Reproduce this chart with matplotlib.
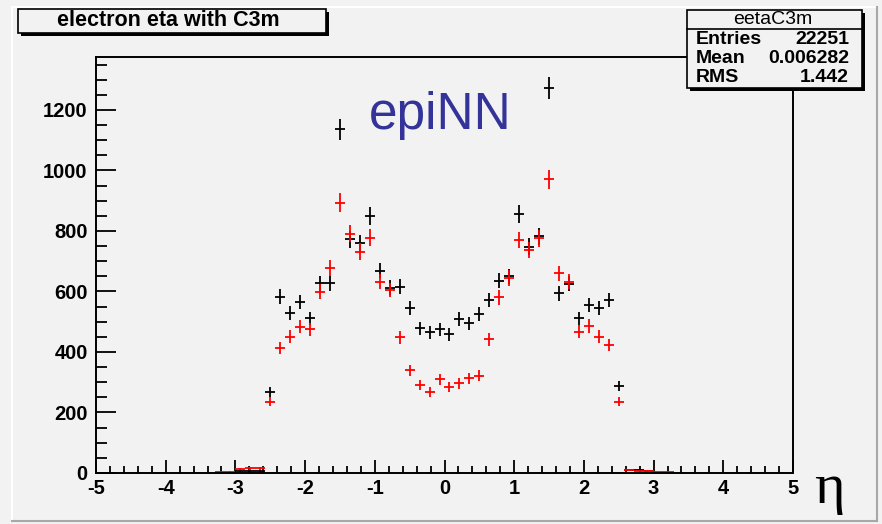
import numpy as np
import matplotlib
matplotlib.use("Agg")
import matplotlib.pyplot as plt
from matplotlib.patches import Rectangle
from matplotlib.lines import Line2D
from matplotlib.ticker import MultipleLocator

# histogram eetaC3m: 70 bins on [-5, 5], filled bins 12..58
n_bins = 70
eta_lo, eta_hi = -5.0, 5.0
first_bin = 12

counts_all = [0, 0, 5, 7, 6,
              269, 583, 528, 566, 511, 627, 627, 1136, 773, 759, 850, 669,
              613, 616, 544, 478, 465, 475, 458, 508, 495, 526, 572, 636,
              650, 856, 748, 783, 1272, 594, 625, 511, 555, 544, 572, 288,
              10, 9, 6, 0, 0, 0]
counts_c3m = [2, 4, 14, 15, 15,
              236, 412, 451, 484, 475, 599, 677, 894, 790, 732, 778, 632,
              605, 449, 340, 291, 269, 310, 283, 296, 313, 321, 442, 581,
              645, 770, 737, 776, 971, 660, 632, 467, 486, 451, 423, 236,
              9, 8, 7, 3, 2, 1]

title = "electron eta with C3m"
stats_name = "eetaC3m"
stats_rows = [("Entries", "22251"), ("Mean", "0.006282"), ("RMS", "1.442")]
label_text = "epiNN"
xlabel_text = "\u03b7"

W, H = 882, 524
BG = "#f2f2f2"
plt.rcParams["font.family"] = ["Liberation Sans", "DejaVu Sans"]
plt.rcParams["axes.unicode_minus"] = False


def fx(px):
    return px / W


def fy(py):
    return 1 - py / H


edges = np.linspace(eta_lo, eta_hi, n_bins + 1)
centers = 0.5 * (edges[:-1] + edges[1:])
half_w = 0.5 * (edges[1] - edges[0])

fig = plt.figure(figsize=(W / 100, H / 100), dpi=100, facecolor=BG)

# canvas bevel
fig.add_artist(Line2D([fx(12), fx(12)], [fy(7), fy(521)], color="white", lw=1.5))
fig.add_artist(Line2D([fx(12), fx(877)], [fy(7), fy(7)], color="white", lw=1.5))
fig.add_artist(Line2D([fx(877), fx(877)], [fy(7), fy(521)], color="#a8a8a8", lw=1.5))
fig.add_artist(Line2D([fx(12), fx(877)], [fy(521), fy(521)], color="#a8a8a8", lw=1.5))

ax_l, ax_r, ax_t, ax_b = 96, 793, 57, 473
ax = fig.add_axes([fx(ax_l), fy(ax_b), (ax_r - ax_l) / W, (ax_b - ax_t) / H])
ax.set_facecolor(BG)

for counts, col in [(counts_all, "black"), (counts_c3m, "red")]:
    y = np.array(counts, dtype=float)
    x = centers[first_bin:first_bin + len(y)]
    keep = y > 0
    ax.errorbar(x[keep], y[keep], xerr=half_w, yerr=np.sqrt(y[keep]),
                fmt="none", ecolor=col, elinewidth=1.3, capsize=0)

ax.set_xlim(eta_lo, eta_hi)
ax.set_ylim(0, 1375)
ax.xaxis.set_major_locator(MultipleLocator(1))
ax.xaxis.set_minor_locator(MultipleLocator(0.2))
ax.yaxis.set_major_locator(MultipleLocator(200))
ax.yaxis.set_minor_locator(MultipleLocator(50))
ax.tick_params(axis="both", which="both", direction="in", top=False, right=False,
               width=1.3, labelsize=14.5)
ax.tick_params(axis="x", which="major", length=9.5, pad=4)
ax.tick_params(axis="x", which="minor", length=5)
ax.tick_params(axis="y", which="major", length=14.5, pad=6)
ax.tick_params(axis="y", which="minor", length=8)
for lab in ax.get_xticklabels() + ax.get_yticklabels():
    lab.set_fontweight("bold")
for sp in ax.spines.values():
    sp.set_linewidth(1.4)

fig.text(0.5 * (368 + 513) / W, fy(129), label_text,
         ha="center", va="baseline", fontsize=37, color="#333399")
fig.text(fx(829), fy(503), xlabel_text, ha="center", va="baseline",
         fontsize=42, family=["Liberation Serif", "DejaVu Serif"])


def shadow_box(x0, y0, x1, y1):
    fig.add_artist(Rectangle((fx(x0 + 3), fy(y1 + 3)), (x1 - x0) / W, (y1 - y0) / H,
                             transform=fig.transFigure, facecolor="black",
                             edgecolor="black", lw=0, zorder=5))
    fig.add_artist(Rectangle((fx(x0), fy(y1)), (x1 - x0) / W, (y1 - y0) / H,
                             transform=fig.transFigure, facecolor=BG,
                             edgecolor="black", lw=1.2, zorder=6))


# title box
shadow_box(18, 9, 326, 33)
fig.text(fx(168), fy(21), title, ha="center", va="center", fontsize=15.5,
         fontweight="bold", zorder=7)

# stats box
shadow_box(687, 10, 862, 88)
fig.add_artist(Line2D([fx(687), fx(862)], [fy(29), fy(29)], color="black", lw=1.2, zorder=7))
fig.text(fx(773), fy(19), stats_name, ha="center", va="center", fontsize=14, zorder=7)
for i, (k, v) in enumerate(stats_rows):
    yy = fy(39 + 19.5 * i)
    fig.text(fx(696), yy, k, ha="left", va="center", fontsize=14,
             fontweight="bold", zorder=7)
    fig.text(fx(849), yy, v, ha="right", va="center", fontsize=14,
             fontweight="bold", zorder=7)

fig.savefig("out.png", dpi=100, facecolor=BG)
